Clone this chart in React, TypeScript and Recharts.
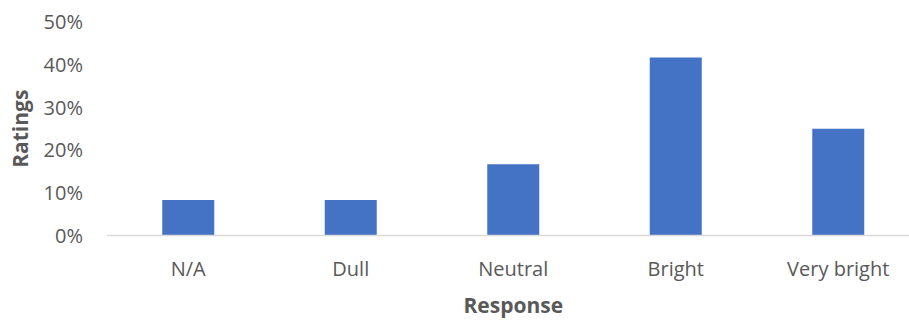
import React from "react";
import { BarChart, Bar, XAxis, YAxis } from "recharts";

// Share of responses per brightness rating
const categories: string[] = ["N/A", "Dull", "Neutral", "Bright", "Very bright"];
const ratings: number[] = [8.33, 8.33, 16.67, 41.67, 25];
const yTicks: number[] = [0, 10, 20, 30, 40, 50];

const data = categories.map((name, i) => ({ name, value: ratings[i] }));

const FONT = "'Open Sans', 'Segoe UI', sans-serif";
const GREY = "#595959";

export default function App() {
  return (
    <div
      style={{
        position: "absolute",
        left: 0,
        top: 0,
        width: 909,
        height: 320,
        overflow: "hidden",
        background: "#fff",
      }}
    >
      <BarChart
        width={925}
        height={320}
        data={data}
        margin={{ top: 22, right: 5.5, bottom: 0, left: 0 }}
        barCategoryGap="34%"
      >
        <XAxis
          dataKey="name"
          height={84.5}
          axisLine={{ stroke: "#d9d9d9", strokeWidth: 1.5 }}
          tickLine={false}
          tickSize={0}
          tickMargin={26}
          tick={{ fill: GREY, fontSize: 20, fontFamily: FONT }}
          label={{
            value: "Response",
            position: "insideBottom",
            offset: 7,
            fill: GREY,
            fontSize: 21,
            fontWeight: "bold",
            fontFamily: FONT,
          }}
        />
        <YAxis
          width={107}
          domain={[0, 50]}
          ticks={yTicks}
          tickFormatter={(v: number) => `${v}%`}
          axisLine={false}
          tickLine={false}
          tickSize={0}
          tickMargin={24}
          tick={{ fill: GREY, fontSize: 20, fontFamily: FONT }}
          label={{
            value: "Ratings",
            angle: -90,
            position: "insideLeft",
            offset: 21,
            fill: GREY,
            fontSize: 21,
            fontWeight: "bold",
            fontFamily: FONT,
            style: { textAnchor: "middle" },
          }}
        />
        <Bar dataKey="value" fill="#4472C4" isAnimationActive={false} />
      </BarChart>
    </div>
  );
}
